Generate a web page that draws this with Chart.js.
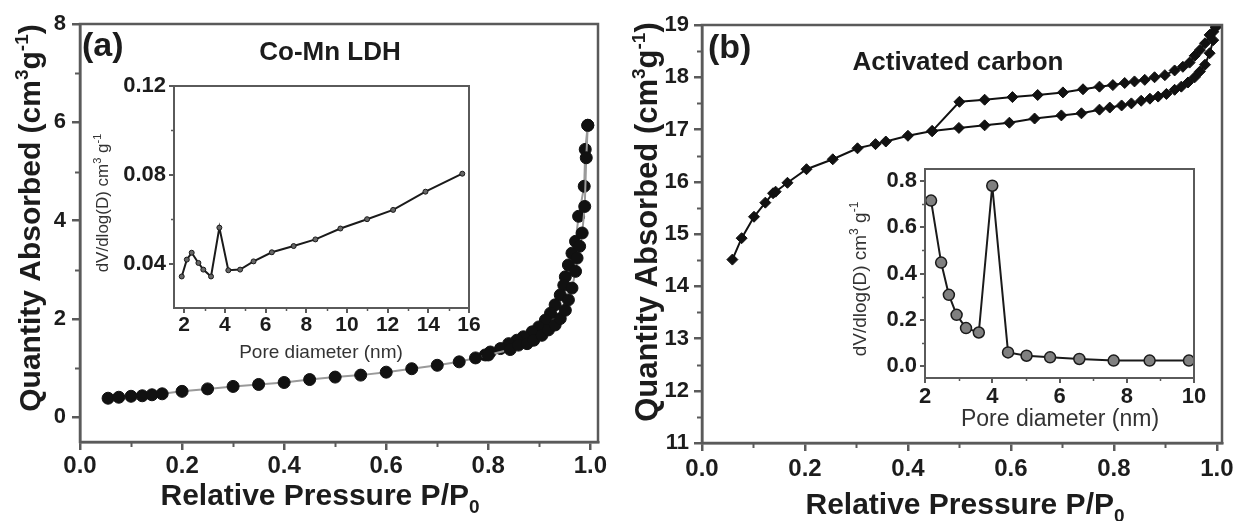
<!DOCTYPE html>
<html>
<head>
<meta charset="utf-8">
<script src="https://cdn.jsdelivr.net/npm/chart.js@4.4.1/dist/chart.umd.min.js"></script>
<style>
  html, body { margin: 0; padding: 0; background: #fff; }
  #wrap { position: relative; width: 1236px; height: 521px; overflow: hidden; background: #fff; }
  canvas { position: absolute; }
</style>
</head>
<body>
<div id="wrap">
  <canvas id="mainA" width="618" height="521" style="left:0;top:0"></canvas>
  <canvas id="mainB" width="618" height="521" style="left:618px;top:0"></canvas>
  <canvas id="insetA" width="391" height="294" style="left:90px;top:76px"></canvas>
  <canvas id="insetB" width="379" height="275" style="left:830px;top:160px"></canvas>
</div>
<script>
// (a) Co-Mn LDH isotherm, P/P0 vs quantity absorbed
const ldhAdsP = [0.055, 0.076, 0.100, 0.122, 0.141, 0.161, 0.200, 0.250, 0.300, 0.350, 0.400, 0.450, 0.500,
  0.550, 0.600, 0.650, 0.700, 0.743, 0.775, 0.800, 0.843, 0.859, 0.876, 0.889, 0.905, 0.918, 0.931,
  0.941, 0.951, 0.957, 0.964, 0.971, 0.974, 0.979, 0.984, 0.989, 0.992, 0.995];
const ldhAdsQ = [0.39, 0.41, 0.43, 0.44, 0.46, 0.48, 0.53, 0.58, 0.63, 0.67, 0.71, 0.77, 0.82,
  0.86, 0.92, 0.99, 1.06, 1.13, 1.21, 1.27, 1.38, 1.47, 1.50, 1.57, 1.67, 1.78, 1.88,
  2.01, 2.18, 2.39, 2.63, 2.97, 3.24, 3.48, 3.75, 4.29, 5.28, 5.94];
const ldhDesP = [0.995, 0.990, 0.988, 0.977, 0.971, 0.964, 0.957, 0.951, 0.948, 0.941, 0.931, 0.922,
  0.912, 0.899, 0.886, 0.869, 0.856, 0.840, 0.824, 0.804, 0.794];
const ldhDesQ = [5.94, 5.45, 4.70, 4.09, 3.58, 3.34, 3.10, 2.86, 2.69, 2.49, 2.29, 2.12,
  1.98, 1.84, 1.74, 1.64, 1.57, 1.50, 1.40, 1.33, 1.27];

// (a) inset: pore size distribution
const ldhPoreD = [1.88, 2.13, 2.37, 2.70, 2.94, 3.32, 3.73, 4.17, 4.75, 5.41, 6.31, 7.38, 8.45, 9.68,
  10.99, 12.27, 13.86, 15.67];
const ldhPoreV = [0.0342, 0.0418, 0.0449, 0.0403, 0.0373, 0.0342, 0.0562, 0.0370, 0.0373, 0.0410,
  0.0451, 0.0479, 0.0509, 0.0558, 0.0600, 0.0642, 0.0724, 0.0805];

// (b) activated carbon isotherm
const acAdsP = [0.059, 0.077, 0.101, 0.123, 0.138, 0.143, 0.166, 0.203, 0.254, 0.302, 0.337, 0.357,
  0.400, 0.447, 0.499, 0.549, 0.597, 0.646, 0.698, 0.737, 0.772, 0.792, 0.815, 0.834, 0.853, 0.870,
  0.886, 0.902, 0.918, 0.931, 0.944, 0.957, 0.967, 0.977, 0.986, 0.993, 0.998];
const acAdsQ = [14.51, 14.92, 15.33, 15.60, 15.78, 15.81, 15.98, 16.24, 16.43, 16.64, 16.72, 16.77,
  16.88, 16.97, 17.03, 17.08, 17.13, 17.21, 17.27, 17.31, 17.38, 17.42, 17.46, 17.50, 17.55, 17.59,
  17.63, 17.68, 17.76, 17.82, 17.90, 18.00, 18.11, 18.24, 18.46, 18.71, 18.96];
const acDesP = [0.998, 0.993, 0.986, 0.977, 0.967, 0.957, 0.947, 0.934, 0.918, 0.899, 0.879, 0.860,
  0.840, 0.821, 0.798, 0.772, 0.740, 0.701, 0.652, 0.603, 0.549, 0.500, 0.447];
const acDesQ = [18.96, 18.87, 18.81, 18.65, 18.52, 18.41, 18.28, 18.20, 18.13, 18.04, 18.00, 17.95,
  17.92, 17.89, 17.85, 17.82, 17.77, 17.71, 17.66, 17.62, 17.57, 17.53, 16.97];

// (b) inset: pore size distribution
const acPoreD = [2.18, 2.48, 2.71, 2.94, 3.22, 3.60, 4.00, 4.47, 5.02, 5.72, 6.59, 7.61, 8.68, 9.85];
const acPoreV = [0.714, 0.447, 0.308, 0.222, 0.165, 0.146, 0.778, 0.060, 0.046, 0.039, 0.032, 0.025, 0.025, 0.025];

// tick labels
const pressureTicks = [0, 0.2, 0.4, 0.6, 0.8, 1.0];
const pressureMinor = [0.1, 0.3, 0.5, 0.7, 0.9];
const ldhQTicks = [0, 2, 4, 6, 8];
const ldhQMinor = [1, 3, 5, 7];
const acQTicks = [11, 12, 13, 14, 15, 16, 17, 18, 19];
const acQMinor = [11.5, 12.5, 13.5, 14.5, 15.5, 16.5, 17.5, 18.5];
const ldhDTicks = [2, 4, 6, 8, 10, 12, 14, 16];
const ldhDMinor = [3, 5, 7, 9, 11, 13, 15];
const ldhVTicks = [0.04, 0.08, 0.12];
const ldhVMinor = [0.06, 0.10];
const acDTicks = [2, 4, 6, 8, 10];
const acDMinor = [3, 5, 7, 9];
const acVTicks = [0, 0.2, 0.4, 0.6, 0.8];
const acVMinor = [0.1, 0.3, 0.5, 0.7];

const FONT = "'Liberation Sans', Arial, Helvetica, sans-serif";
const TEXT = '#1c1c1c';
const AXIS = '#5a5a5a';

const pts = (xs, ys) => xs.map((x, i) => ({ x: x, y: ys[i] }));

// text with super/subscripts, drawn on the canvas
function drawRich(ctx, t) {
  ctx.save();
  ctx.translate(t.x, t.y);
  if (t.rot) ctx.rotate(t.rot);
  ctx.fillStyle = t.color || TEXT;
  ctx.textBaseline = 'alphabetic';
  ctx.textAlign = 'left';
  const w = t.bold ? 'bold ' : '';
  const parts = t.runs.map(r => {
    const sz = r[1] ? Math.round(t.size * 0.62) : t.size;
    const font = w + sz + 'px ' + FONT;
    ctx.font = font;
    const dy = r[1] === 'sup' ? -t.size * 0.4 : (r[1] === 'sub' ? t.size * 0.28 : 0);
    return { s: r[0], font: font, dy: dy, wd: ctx.measureText(r[0]).width };
  });
  const total = parts.reduce((a, p) => a + p.wd, 0);
  let x = t.align === 'left' ? 0 : -total / 2;
  parts.forEach(p => { ctx.font = p.font; ctx.fillText(p.s, x, p.dy); x += p.wd; });
  ctx.restore();
}

// frame, minor ticks and labels
function decor(spec) {
  return {
    id: 'decor',
    afterDraw(chart) {
      const { ctx, chartArea: a, scales } = chart;
      ctx.save();
      ctx.strokeStyle = AXIS;
      ctx.lineWidth = spec.frame;
      ctx.strokeRect(a.left, a.top, a.right - a.left, a.bottom - a.top);
      ctx.lineWidth = spec.minorWidth;
      spec.minorX.forEach(v => {
        const px = Math.round(scales.x.getPixelForValue(v)) + 0.5;
        ctx.beginPath(); ctx.moveTo(px, a.bottom); ctx.lineTo(px, a.bottom + spec.minorLen); ctx.stroke();
      });
      spec.minorY.forEach(v => {
        const py = Math.round(scales.y.getPixelForValue(v)) + 0.5;
        ctx.beginPath(); ctx.moveTo(a.left, py); ctx.lineTo(a.left - spec.minorLen, py); ctx.stroke();
      });
      ctx.restore();
      spec.texts.forEach(t => drawRich(ctx, t));
    }
  };
}

function axis(o) {
  return {
    type: 'linear',
    position: o.position,
    min: o.min,
    max: o.max,
    afterBuildTicks: s => { s.ticks = o.ticks.map(v => ({ value: v })); },
    afterFit: s => {
      if (o.position === 'left') s.width = o.size; else s.height = o.size;
      s.paddingLeft = 0; s.paddingRight = 0; s.paddingTop = 0; s.paddingBottom = 0;
    },
    grid: { drawOnChartArea: false, drawTicks: true, tickLength: o.tickLen, color: AXIS, lineWidth: o.lw },
    border: { display: true, color: AXIS, width: o.lw },
    ticks: {
      autoSkip: false, maxRotation: 0, minRotation: 0,
      padding: o.pad, color: TEXT,
      font: { family: FONT, size: o.fs, weight: 'bold' },
      callback: v => o.fmt(v)
    }
  };
}

const baseOpts = (padding) => ({
  responsive: false,
  animation: false,
  events: [],
  layout: { padding: padding },
  plugins: { legend: { display: false }, tooltip: { enabled: false } }
});

// ---- (a) main ----
new Chart(document.getElementById('mainA'), {
  type: 'scatter',
  data: {
    datasets: [
      { data: pts(ldhAdsP, ldhAdsQ), showLine: true, borderColor: '#9a9a9a', borderWidth: 2,
        pointRadius: 6, pointBackgroundColor: '#111', pointBorderColor: '#111', pointBorderWidth: 1 },
      { data: pts(ldhDesP, ldhDesQ), showLine: true, borderColor: '#9a9a9a', borderWidth: 2,
        pointRadius: 6, pointBackgroundColor: '#111', pointBorderColor: '#111', pointBorderWidth: 1 }
    ]
  },
  options: Object.assign(baseOpts({ top: 24, right: 20, left: 0, bottom: 0 }), {
    scales: {
      x: axis({ position: 'bottom', min: 0, max: 1.015, ticks: pressureTicks, size: 79, tickLen: 8, pad: 2,
        fs: 24, lw: 2.5, fmt: v => v.toFixed(1) }),
      y: axis({ position: 'left', min: -0.5, max: 8, ticks: ldhQTicks, size: 80, tickLen: 8, pad: 6,
        fs: 22, lw: 2.5, fmt: v => String(v) })
    }
  }),
  plugins: [decor({
    frame: 2.5, minorWidth: 2, minorLen: 5, minorX: pressureMinor, minorY: ldhQMinor,
    texts: [
      { x: 82, y: 56, size: 34, bold: true, align: 'left', runs: [['(a)']] },
      { x: 330, y: 60, size: 26, bold: true, runs: [['Co-Mn LDH']] },
      { x: 40, y: 218, rot: -Math.PI / 2, size: 30, bold: true,
        runs: [['Quantity Absorbed (cm'], ['3', 'sup'], ['g'], ['-1', 'sup'], [')']] },
      { x: 320, y: 505, size: 30, bold: true, runs: [['Relative Pressure P/P'], ['0', 'sub']] }
    ]
  })]
});

// ---- (b) main ----
new Chart(document.getElementById('mainB'), {
  type: 'scatter',
  data: {
    datasets: [
      { data: pts(acAdsP, acAdsQ), showLine: true, borderColor: '#111', borderWidth: 2,
        pointStyle: 'rectRot', pointRadius: 5.5, pointBackgroundColor: '#111', pointBorderColor: '#111', pointBorderWidth: 1 },
      { data: pts(acDesP, acDesQ), showLine: true, borderColor: '#111', borderWidth: 2,
        pointStyle: 'rectRot', pointRadius: 5.5, pointBackgroundColor: '#111', pointBorderColor: '#111', pointBorderWidth: 1 }
    ]
  },
  options: Object.assign(baseOpts({ top: 25, right: 14, left: 0, bottom: 0 }), {
    scales: {
      x: axis({ position: 'bottom', min: 0, max: 1.01, ticks: pressureTicks, size: 78, tickLen: 8, pad: 4,
        fs: 24, lw: 2.5, fmt: v => v.toFixed(1) }),
      y: axis({ position: 'left', min: 11, max: 19, ticks: acQTicks, size: 84, tickLen: 8, pad: 5,
        fs: 22, lw: 2.5, fmt: v => String(v) })
    }
  }),
  plugins: [decor({
    frame: 2.5, minorWidth: 2, minorLen: 5, minorX: pressureMinor, minorY: acQMinor,
    texts: [
      { x: 90, y: 58, size: 34, bold: true, align: 'left', runs: [['(b)']] },
      { x: 340, y: 70, size: 26, bold: true, runs: [['Activated carbon']] },
      { x: 39, y: 222, rot: -Math.PI / 2, size: 31, bold: true,
        runs: [['Quantity Absorbed (cm'], ['3', 'sup'], ['g'], ['-1', 'sup'], [')']] },
      { x: 347, y: 514, size: 30, bold: true, runs: [['Relative Pressure P/P'], ['0', 'sub']] }
    ]
  })]
});

// ---- (a) inset ----
new Chart(document.getElementById('insetA'), {
  type: 'scatter',
  data: {
    datasets: [
      { data: pts(ldhPoreD, ldhPoreV), showLine: true, borderColor: '#1a1a1a', borderWidth: 2,
        pointRadius: 2.5, pointBackgroundColor: '#666', pointBorderColor: '#1a1a1a', pointBorderWidth: 1 }
    ]
  },
  options: Object.assign(baseOpts({ top: 10, right: 12, left: 0, bottom: 0 }), {
    scales: {
      x: axis({ position: 'bottom', min: 1.5, max: 16, ticks: ldhDTicks, size: 62, tickLen: 5, pad: 0,
        fs: 21, lw: 2, fmt: v => String(v) }),
      y: axis({ position: 'left', min: 0.02, max: 0.12, ticks: ldhVTicks, size: 84, tickLen: 5, pad: 3,
        fs: 22, lw: 2, fmt: v => v.toFixed(2) })
    }
  }),
  plugins: [decor({
    frame: 2, minorWidth: 1.5, minorLen: 3, minorX: ldhDMinor, minorY: ldhVMinor,
    texts: [
      { x: 18, y: 127, rot: -Math.PI / 2, size: 17, color: '#333',
        runs: [['dV/dlog(D) cm'], ['3', 'sup'], [' g'], ['-1', 'sup']] },
      { x: 231, y: 282, size: 19, color: '#333', runs: [['Pore diameter (nm)']] }
    ]
  })]
});

// ---- (b) inset ----
new Chart(document.getElementById('insetB'), {
  type: 'scatter',
  data: {
    datasets: [
      { data: pts(acPoreD, acPoreV), showLine: true, borderColor: '#1a1a1a', borderWidth: 2,
        pointRadius: 5.5, pointBackgroundColor: '#808080', pointBorderColor: '#1a1a1a', pointBorderWidth: 1.5 }
    ]
  },
  options: Object.assign(baseOpts({ top: 9, right: 15, left: 0, bottom: 0 }), {
    scales: {
      x: axis({ position: 'bottom', min: 2, max: 10, ticks: acDTicks, size: 57, tickLen: 5, pad: 1,
        fs: 22, lw: 2, fmt: v => String(v) }),
      y: axis({ position: 'left', min: -0.05, max: 0.85, ticks: acVTicks, size: 95, tickLen: 5, pad: 3,
        fs: 22, lw: 2, fmt: v => v.toFixed(1) })
    }
  }),
  plugins: [decor({
    frame: 2, minorWidth: 1.5, minorLen: 3, minorX: acDMinor, minorY: acVMinor,
    texts: [
      { x: 36, y: 119, rot: -Math.PI / 2, size: 19, color: '#333',
        runs: [['dV/dlog(D) cm'], ['3', 'sup'], [' g'], ['-1', 'sup']] },
      { x: 230, y: 266, size: 23, color: '#333', runs: [['Pore diameter (nm)']] }
    ]
  })]
});
</script>
</body>
</html>
